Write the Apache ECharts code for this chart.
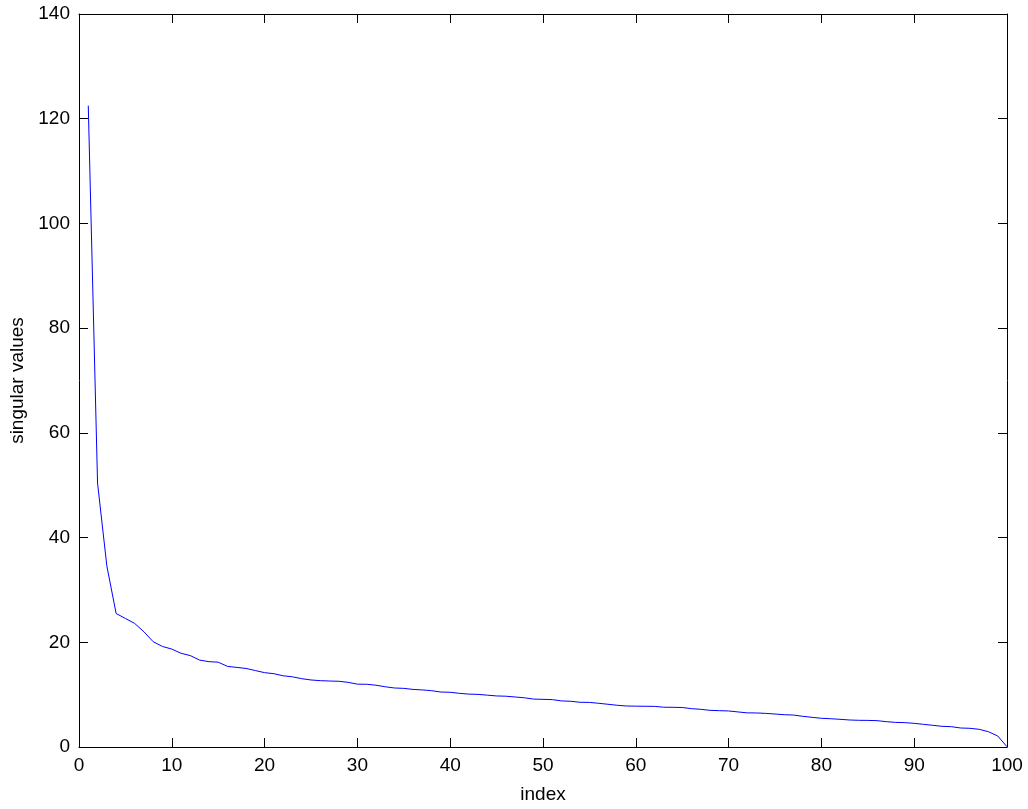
<!DOCTYPE html>
<html>
<head>
<meta charset="utf-8">
<script src="https://cdn.jsdelivr.net/npm/echarts@6/dist/echarts.min.js"></script>
<style>html,body{margin:0;padding:0;background:#fff}#c{width:1028px;height:809px}</style>
</head>
<body>
<div id="c"></div>
<script>
const indices = [];
for (let i = 1; i <= 100; i++) indices.push(i);
const singularValues = [
  122.5, 50.4, 34.6, 25.5, 24.55, 23.6, 22.0, 20.1, 19.2, 18.7,
  17.9, 17.45, 16.6, 16.3, 16.2, 15.4, 15.2, 15.0, 14.6, 14.2,
  14.0, 13.6, 13.4, 13.05, 12.8, 12.67, 12.6, 12.55, 12.35, 12.0,
  11.98, 11.8, 11.5, 11.27, 11.2, 11.0, 10.9, 10.75, 10.5, 10.45,
  10.25, 10.1, 10.05, 9.9, 9.75, 9.7, 9.55, 9.4, 9.15, 9.1,
  9.05, 8.8, 8.73, 8.54, 8.52, 8.35, 8.16, 7.97, 7.83, 7.8,
  7.78, 7.76, 7.6, 7.58, 7.55, 7.32, 7.2, 7.0, 6.94, 6.88,
  6.7, 6.52, 6.5, 6.42, 6.3, 6.17, 6.1, 5.86, 5.67, 5.48,
  5.4, 5.29, 5.16, 5.1, 5.08, 5.03, 4.84, 4.7, 4.65, 4.52,
  4.33, 4.14, 3.95, 3.88, 3.63, 3.57, 3.38, 2.92, 2.1, 0.05
];
const xTicks = { min: 0, max: 100, step: 10 };
const yTicks = { min: 0, max: 140, step: 20 };

const font = 'Liberation Sans, Arial, Helvetica, sans-serif';
const axisCommon = {
  axisLine: { show: true, onZero: false, lineStyle: { color: '#000', width: 1 } },
  axisTick: { show: true, inside: true, length: 9, lineStyle: { color: '#000' } },
  splitLine: { show: false }
};
const chart = echarts.init(document.getElementById('c'), null, { renderer: 'canvas' });
chart.setOption({
  animation: false,
  backgroundColor: '#fff',
  grid: { left: 77, right: 21, top: 14, bottom: 62, containLabel: false },
  xAxis: [
    Object.assign({
      type: 'value', position: 'bottom', min: xTicks.min, max: xTicks.max, interval: xTicks.step,
      name: 'index', nameLocation: 'middle', nameGap: 38,
      nameTextStyle: { fontFamily: font, fontSize: 19, color: '#000' },
      axisLabel: { fontFamily: font, fontSize: 19, color: '#000', margin: 9 }
    }, axisCommon),
    Object.assign({
      type: 'value', position: 'top', min: xTicks.min, max: xTicks.max, interval: xTicks.step,
      axisLabel: { show: false }
    }, axisCommon)
  ],
  yAxis: [
    Object.assign({
      type: 'value', position: 'left', min: yTicks.min, max: yTicks.max, interval: yTicks.step,
      name: 'singular values', nameLocation: 'middle', nameGap: 52,
      nameTextStyle: { fontFamily: font, fontSize: 19, color: '#000' },
      axisLabel: { fontFamily: font, fontSize: 19, color: '#000', margin: 9 }
    }, axisCommon),
    Object.assign({
      type: 'value', position: 'right', min: yTicks.min, max: yTicks.max, interval: yTicks.step,
      axisLabel: { show: false }
    }, axisCommon)
  ],
  series: [{
    type: 'line',
    data: indices.map((x, i) => [x, singularValues[i]]),
    showSymbol: false,
    symbol: 'none',
    lineStyle: { color: '#0000ff', width: 1 },
    xAxisIndex: 0, yAxisIndex: 0
  }]
});
</script>
</body>
</html>
